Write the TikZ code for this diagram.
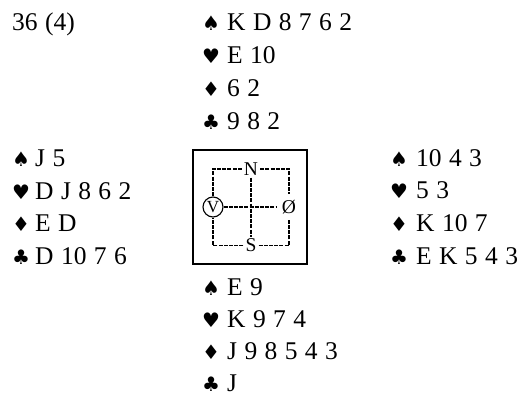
\documentclass[tikz,border=0pt]{standalone}
\usepackage{fontspec}
\setmainfont{Liberation Serif}
\newfontfamily\suitfont{DejaVu Sans}
\begin{document}
\begin{tikzpicture}[x=1pt,y=-1pt,
  hand/.style={anchor=base west,inner sep=0pt,font=\fontsize{25.5}{25.5}\selectfont,
    execute at begin node={\spaceskip=7.4pt plus 1pt\relax}},
  suit/.style={anchor=base west,inner sep=0pt,font=\suitfont\fontsize{20}{20}\selectfont},
  compass/.style={inner sep=2pt,font=\fontsize{19.5}{19.5}\selectfont},
  dline/.style={line width=1.3pt,dash pattern=on 4pt off 1.2pt}]
\useasboundingbox (0,0) rectangle (524,396);
% title
\node[hand] (title) at (12,31) {36 (4)};
% North
\node[suit] (ns) at (202,30.5) {♠}; \node[hand] (nst) at (227,30.5) {K D 8 7 6 2};
\node[suit] (nh) at (202,63.5) {♥}; \node[hand] (nht) at (227,63.5) {E 10};
\node[suit] (nd) at (202,96.5) {♦}; \node[hand] (ndt) at (227,96.5) {6 2};
\node[suit] (nc) at (202,129.5) {♣}; \node[hand] (nct) at (227,129.5) {9 8 2};
% West
\node[suit] (ws) at (12,166.5) {♠}; \node[hand] (wst) at (35,166.5) {J 5};
\node[suit] (wh) at (12,199) {♥}; \node[hand] (wht) at (35,199) {D J 8 6 2};
\node[suit] (wd) at (12,231.5) {♦}; \node[hand] (wdt) at (35,231.5) {E D};
\node[suit] (wc) at (12,264) {♣}; \node[hand] (wct) at (35,264) {D 10 7 6};
% East
\node[suit] (es) at (390,166) {♠}; \node[hand] (est) at (416,166) {10 4 3};
\node[suit] (eh) at (390,198.5) {♥}; \node[hand] (eht) at (416,198.5) {5 3};
\node[suit] (ed) at (390,231) {♦}; \node[hand] (edt) at (416,231) {K 10 7};
\node[suit] (ec) at (390,264) {♣}; \node[hand] (ect) at (416,264) {E K 5 4 3};
% South
\node[suit] (ss) at (202,295) {♠}; \node[hand] (sst) at (227,295) {E 9};
\node[suit] (sh) at (202,327) {♥}; \node[hand] (sht) at (227,327) {K 9 7 4};
\node[suit] (sd) at (202,359) {♦}; \node[hand] (sdt) at (227,359) {J 9 8 5 4 3};
\node[suit] (sc) at (202,391) {♣}; \node[hand] (sct) at (227,391) {J};
% compass box
\node[draw,line width=1.8pt,minimum size=114pt,inner sep=0pt] (box) at (250,207) {};
\node[compass] (N) at (251,169) {N};
\node[compass] (S) at (251,245.5) {S};
\node[draw,circle,line width=1.1pt,minimum size=20pt,inner sep=0pt,font=\fontsize{17}{17}\selectfont] (V) at (213,207) {V};
\node[compass,inner sep=5.5pt] (O) at (289,207) {Ø};
\draw[dline] (N.west) -| (V.north);
\draw[dline] (N.east) -| (O.north);
\draw[dline] (S.west) -| (V.south);
\draw[dline] (S.east) -| (O.south);
\draw[dline] (V.east) -- (O.west);
\draw[dline] (N.south) -- (S.north);
\end{tikzpicture}
\end{document}
